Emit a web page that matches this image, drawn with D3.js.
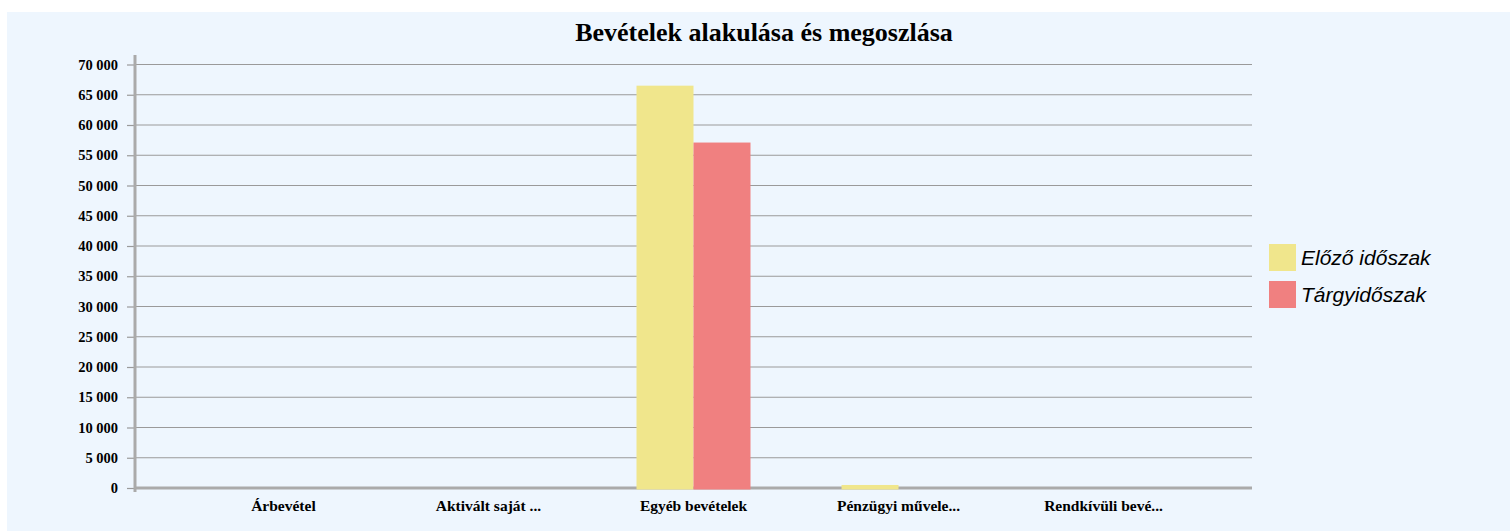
<!DOCTYPE html>
<html>
<head>
<meta charset="utf-8">
<script src="https://cdn.jsdelivr.net/npm/d3@7.9.0/dist/d3.min.js"></script>
<style>
  body { margin: 0; background: #fff; }
  svg { display: block; }
</style>
</head>
<body>
<div id="chart"></div>
<script>
// data
const categories = ['Árbevétel', 'Aktivált saját ...', 'Egyéb bevételek', 'Pénzügyi művele...', 'Rendkívüli bevé...'];
const seriesNames = ['Előző időszak', 'Tárgyidőszak'];
const previousPeriod = [0, 0, 66500, 500, 0];
const currentPeriod = [0, 0, 57100, 0, 0];
const yTicks = [0, 5000, 10000, 15000, 20000, 25000, 30000, 35000, 40000, 45000, 50000, 55000, 60000, 65000, 70000];
const colors = ['#f0e68c', '#f08080'];

const width = 1510;
const height = 531;

const svg = d3.select('#chart')
    .append('svg')
    .attr('width', width)
    .attr('height', height);

// background panel
svg.append('rect')
    .attr('x', 7)
    .attr('y', 12)
    .attr('width', width - 7)
    .attr('height', height - 12)
    .attr('fill', '#eef6fe');

const plot = { left: 135, right: 1252, top: 64.5, bottom: 488 };

const xScale = d3.scaleBand()
    .domain(categories)
    .range([plot.left, plot.right])
    .paddingInner(0)
    .paddingOuter(0.224);

const groupWidth = 114;
const x1 = d3.scaleBand()
    .domain(seriesNames)
    .range([xScale.bandwidth() / 2 - groupWidth / 2, xScale.bandwidth() / 2 + groupWidth / 2]);

const yScale = d3.scaleLinear()
    .domain([0, 70000])
    .range([plot.bottom, plot.top]);

const fmt = v => d3.format(',')(v).replace(/,/g, ' ');

// gridlines
svg.append('g')
    .attr('class', 'gridlines')
    .selectAll('line')
    .data(yTicks.filter(d => d > 0))
    .join('line')
    .attr('x1', plot.left)
    .attr('x2', plot.right)
    .attr('y1', d => yScale(d))
    .attr('y2', d => yScale(d))
    .attr('stroke', '#9a9a9a')
    .attr('stroke-width', 1.2);

// y axis
const yAxis = d3.axisLeft(yScale)
    .tickValues(yTicks)
    .tickFormat(fmt)
    .tickSize(8)
    .tickPadding(9);

const yg = svg.append('g')
    .attr('transform', `translate(${plot.left},0)`)
    .call(yAxis);
yg.select('.domain').remove();
yg.selectAll('.tick line').attr('stroke', '#9a9a9a').attr('stroke-width', 1.2);
yg.selectAll('.tick text')
    .attr('font-family', '"Liberation Serif", "Times New Roman", serif')
    .attr('font-weight', 'bold')
    .attr('font-size', 14.5)
    .attr('fill', '#000');

// axis lines
svg.append('line')
    .attr('x1', plot.left).attr('x2', plot.left)
    .attr('y1', 55).attr('y2', 492)
    .attr('stroke', '#aaaaaa')
    .attr('stroke-width', 3);
svg.append('line')
    .attr('x1', plot.left).attr('x2', plot.right)
    .attr('y1', plot.bottom).attr('y2', plot.bottom)
    .attr('stroke', '#aaaaaa')
    .attr('stroke-width', 3);

// bars (drawn over the baseline)
const table = categories.map((c, i) => ({
    category: c,
    values: [previousPeriod[i], currentPeriod[i]]
}));

const groups = svg.append('g')
    .attr('class', 'bars')
    .selectAll('g')
    .data(table)
    .join('g')
    .attr('transform', d => `translate(${xScale(d.category)},0)`);

groups.selectAll('rect')
    .data(d => d.values.map((v, j) => ({ series: seriesNames[j], value: v, j })))
    .join('rect')
    .filter(d => d.value > 0)
    .attr('x', d => x1(d.series))
    .attr('width', x1.bandwidth())
    .attr('y', d => yScale(d.value))
    .attr('height', d => yScale(0) - yScale(d.value) + 1.5)
    .attr('fill', d => colors[d.j]);

// x labels
const xAxis = d3.axisBottom(xScale).tickSize(0).tickPadding(12);
const xg = svg.append('g')
    .attr('transform', `translate(0,${plot.bottom})`)
    .call(xAxis);
xg.select('.domain').remove();
xg.selectAll('.tick text')
    .attr('font-family', '"Liberation Serif", "Times New Roman", serif')
    .attr('font-weight', 'bold')
    .attr('font-size', 15.5)
    .attr('fill', '#000');

// title
svg.append('text')
    .attr('x', 764)
    .attr('y', 41)
    .attr('text-anchor', 'middle')
    .attr('font-family', '"Liberation Serif", "Times New Roman", serif')
    .attr('font-weight', 'bold')
    .attr('font-size', 26)
    .text('Bevételek alakulása és megoszlása');

// legend
const legend = svg.append('g')
    .attr('transform', 'translate(1269,244)');
const items = legend.selectAll('g')
    .data(seriesNames)
    .join('g')
    .attr('transform', (d, i) => `translate(0,${i * 37})`);
items.append('rect')
    .attr('width', 27)
    .attr('height', 27)
    .attr('fill', (d, i) => colors[i]);
items.append('text')
    .attr('x', 32)
    .attr('y', 21)
    .attr('font-family', '"Liberation Sans", Arial, sans-serif')
    .attr('font-style', 'italic')
    .attr('font-size', 21)
    .attr('fill', '#000')
    .text(d => d);
</script>
</body>
</html>
